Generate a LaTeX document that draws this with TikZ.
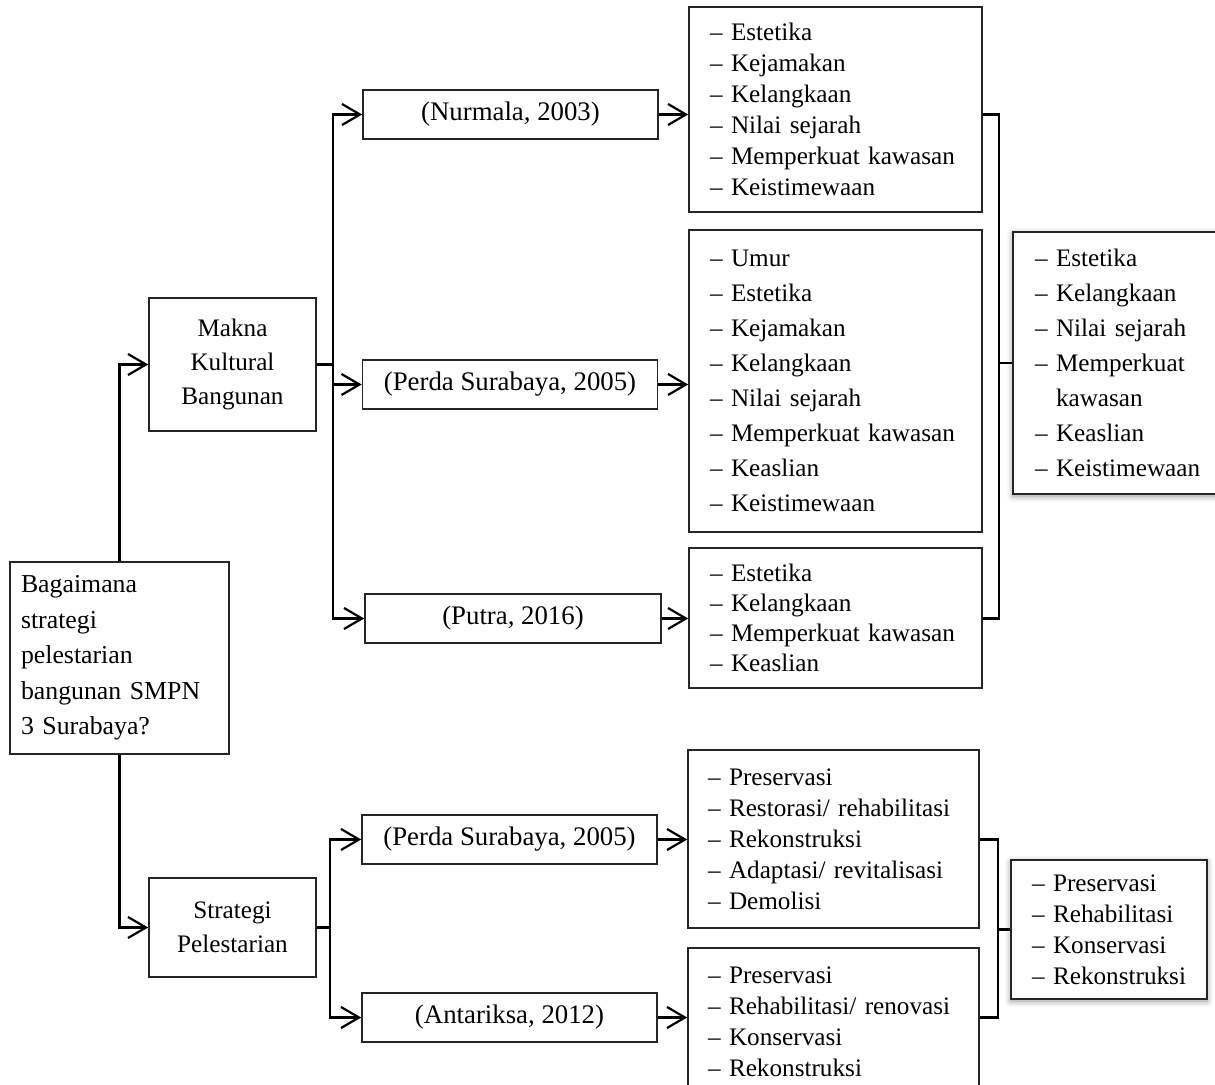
\documentclass[tikz,border=0pt]{standalone}
\usepackage{fontspec}
\setmainfont{Liberation Serif}
\usetikzlibrary{arrows.meta,shadows.blur}
\begin{document}
\begin{tikzpicture}[x=0.5pt,y=-0.5pt,
  box/.style={draw=black!85, line width=0.8pt, rectangle, inner ysep=0pt, fill=white,
    execute at begin node={\hyphenpenalty=10000 \exhyphenpenalty=10000 \hbadness=10000 \hfuzz=30pt}},
  ctr/.style={box, align=center, inner xsep=2pt},
  lst/.style={box, align=left},
  conn/.style={line width=1.25pt, draw=black, line join=miter},
  arr/.style={conn, -{Straight Barb[length=9pt,width=10.5pt,line width=1.1pt]}},
  shd/.style={blur shadow={shadow xshift=0pt, shadow yshift=-1pt, shadow blur radius=3pt, shadow opacity=45}}
]
\useasboundingbox (0,0) rectangle (1215,1085);

% left column
\node[box, align=left, inner xsep=5.5pt, text width=98.5pt, minimum height=96pt,
  font=\fontsize{12.9}{17.75}\selectfont] (Q) at (119.5,658)
  {Bagaimana\\strategi\\pelestarian\\bangunan SMPN\\3 Surabaya?};
\node[ctr, minimum width=83.5pt, minimum height=66.5pt,
  font=\fontsize{12.6}{17}\selectfont] (Mk) at (232.5,364.5) {Makna\\Kultural\\Bangunan};
\node[ctr, minimum width=83.5pt, minimum height=49.5pt,
  font=\fontsize{12.6}{17}\selectfont] (St) at (232.5,927.5) {Strategi\\Pelestarian};

% source boxes
\tikzset{src/.style={ctr, minimum width=147.5pt, minimum height=24.5pt, font=\fontsize{13.4}{15}\selectfont}}
\node[src] (Nu)  at (510.5,114.5) {(Nurmala, 2003)};
\node[src] (Pe1) at (510,384.5)  {(Perda Surabaya, 2005)};
\node[src, minimum width=148pt] (Pu)  at (513,618.5)  {(Putra, 2016)};
\node[src] (Pe2) at (509.5,839.5) {(Perda Surabaya, 2005)};
\node[src] (An)  at (509.5,1017.5) {(Antariksa, 2012)};

% list boxes
\node[lst, inner xsep=10.5pt, text width=125.5pt, minimum height=102.5pt,
  font=\fontsize{12.6}{15.5}\selectfont] (L1) at (835.5,109.5)
  {–~Estetika\\–~Kejamakan\\–~Kelangkaan\\–~Nilai sejarah\\–~Memperkuat kawasan\\–~Keistimewaan};
\node[lst, inner xsep=10.5pt, text width=125.5pt, minimum height=151pt,
  font=\fontsize{12.6}{17.5}\selectfont] (L2) at (835.5,381)
  {–~Umur\\–~Estetika\\–~Kejamakan\\–~Kelangkaan\\–~Nilai sejarah\\–~Memperkuat kawasan\\–~Keaslian\\–~Keistimewaan};
\node[lst, inner xsep=10.5pt, text width=125.5pt, minimum height=70pt,
  font=\fontsize{12.6}{15}\selectfont] (L3) at (835.5,618)
  {–~Estetika\\–~Kelangkaan\\–~Memperkuat kawasan\\–~Keaslian};
\node[lst, inner xsep=10pt, text width=125.5pt, minimum height=89pt,
  font=\fontsize{12.6}{15.5}\selectfont] (L4) at (833.5,839)
  {–~Preservasi\\–~Restorasi/ rehabilitasi\\–~Rekonstruksi\\–~Adaptasi/ revitalisasi\\–~Demolisi};
\node[lst, inner xsep=10pt, text width=125.5pt, minimum height=73.5pt,
  font=\fontsize{12.6}{15.5}\selectfont] (L5) at (833.5,1021.5)
  {–~Preservasi\\–~Rehabilitasi/ renovasi\\–~Konservasi\\–~Rekonstruksi};

% summary boxes
\node[lst, shd, inner xsep=11pt, text width=86.5pt, minimum height=131pt,
  font=\fontsize{12.6}{17.5}\selectfont] (S1) at (1121.5,363)
  {–~Estetika\\–~Kelangkaan\\–~Nilai sejarah\\–~Memperkuat\\\hphantom{–~}kawasan\\–~Keaslian\\–~Keistimewaan};
\node[lst, shd, inner xsep=10.5pt, text width=77pt, minimum height=69.5pt,
  font=\fontsize{12.6}{15.5}\selectfont] (S2) at (1109,929.5)
  {–~Preservasi\\–~Rehabilitasi\\–~Konservasi\\–~Rekonstruksi};

% helper coordinates
\coordinate (t1) at (333,0);
\coordinate (t2) at (330,0);
\coordinate (b1) at (999,0);
\coordinate (b2) at (998,0);

% connectors
\draw[arr] (Q.north) |- (Mk.west);
\draw[arr] (Q.south) |- (St.west);

\draw[conn] (Mk.east) -- (Mk.east -| t1);
\draw[arr] (Mk.east -| t1) |- (Nu.west);
\draw[arr] (Mk.east -| t1) |- (Pe1.west);
\draw[arr] (Mk.east -| t1) |- (Pu.west);

\draw[arr] (Nu.east) -- (Nu.east -| L1.west);
\draw[arr] (Pe1.east) -- (Pe1.east -| L2.west);
\draw[arr] (Pu.east) -- (Pu.east -| L3.west);

\draw[conn] (Nu.east -| L1.east) -| (b1 |- S1.west) |- (Pu.east -| L3.east);
\draw[conn] (b1 |- S1.west) -- (S1.west);

\draw[conn] (St.east) -- (St.east -| t2);
\draw[arr] (St.east -| t2) |- (Pe2.west);
\draw[arr] (St.east -| t2) |- (An.west);

\draw[arr] (Pe2.east) -- (Pe2.east -| L4.west);
\draw[arr] (An.east) -- (An.east -| L5.west);

\draw[conn] (Pe2.east -| L4.east) -| (b2 |- S2.west) |- (An.east -| L5.east);
\draw[conn] (b2 |- S2.west) -- (S2.west);
\end{tikzpicture}
\end{document}
